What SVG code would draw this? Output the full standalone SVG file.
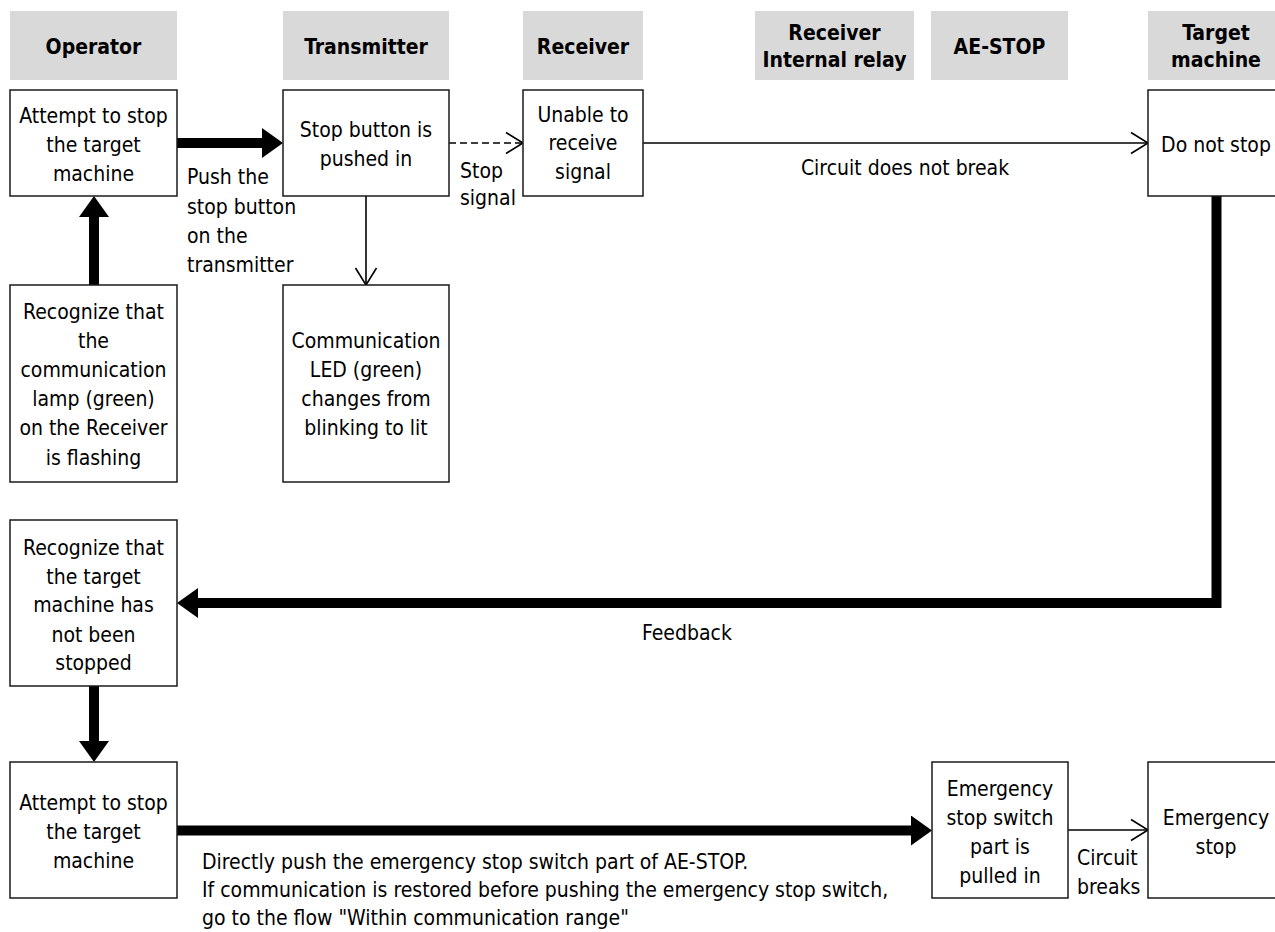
<svg xmlns="http://www.w3.org/2000/svg" width="1275" height="932" viewBox="0 0 1275 932">
<style>
  text { font-family: "DejaVu Sans Condensed", "DejaVu Sans", sans-serif; font-size: 21px; fill: #000; }
  .c { text-anchor: middle; }
  .h { font-weight: bold; text-anchor: middle; }
  .hdr { fill: #d9d9d9; stroke: none; }
  .box { fill: #fff; stroke: #1a1a1a; stroke-width: 1.5; }
  .thick { fill: none; stroke: #000; stroke-width: 10; stroke-linejoin: miter; }
  .thin { fill: none; stroke: #000; stroke-width: 1.6; }
  .dash { stroke-dasharray: 7 4; }
</style>
<defs>
  <marker id="big" viewBox="0 0 21 30" refX="0" refY="15" markerWidth="21" markerHeight="30" markerUnits="userSpaceOnUse" orient="auto">
    <path d="M0,0 L21,15 L0,30 Z" fill="#000"/>
  </marker>
  <marker id="open" viewBox="0 0 20 24" refX="18" refY="12" markerWidth="20" markerHeight="24" markerUnits="userSpaceOnUse" orient="auto">
    <path d="M1,1.5 L18,12 L1,22.5" fill="none" stroke="#000" stroke-width="1.6" stroke-dasharray="none"/>
  </marker>
</defs>

<g id="headers">
  <g id="hdr-operator"><rect class="hdr" x="10" y="11" width="167" height="69"/><text class="h" x="93.5" y="54">Operator</text></g>
  <g id="hdr-transmitter"><rect class="hdr" x="283" y="11" width="166" height="69"/><text class="h" x="366" y="54">Transmitter</text></g>
  <g id="hdr-receiver"><rect class="hdr" x="523" y="11" width="120" height="69"/><text class="h" x="583" y="54">Receiver</text></g>
  <g id="hdr-relay"><rect class="hdr" x="755" y="11" width="159" height="69"/><text class="h" x="834.5" y="40">Receiver</text><text class="h" x="834.5" y="67">Internal relay</text></g>
  <g id="hdr-aestop"><rect class="hdr" x="931" y="11" width="137" height="69"/><text class="h" x="999.5" y="54">AE-STOP</text></g>
  <g id="hdr-target"><rect class="hdr" x="1148" y="11" width="137" height="69"/><text class="h" x="1216" y="40">Target</text><text class="h" x="1216" y="67">machine</text></g>
</g>

<g id="connectors">
  <path class="thick" d="M177,143 H262" marker-end="url(#big)"/>
  <path class="thick" d="M94,285 V217" marker-end="url(#big)"/>
  <path class="thick" d="M1216.5,196 V603 H198" marker-end="url(#big)"/>
  <path class="thick" d="M94,686 V741" marker-end="url(#big)"/>
  <path class="thick" d="M177,830.5 H911" marker-end="url(#big)"/>
  <path class="thin" d="M366,196 V285" marker-end="url(#open)"/>
  <path class="thin dash" d="M449,143 H523" marker-end="url(#open)"/>
  <path class="thin" d="M643,143 H1148" marker-end="url(#open)"/>
  <path class="thin" d="M1068,830 H1148" marker-end="url(#open)"/>
  <g id="connector-labels">
    <text x="187" y="184">Push the</text>
    <text x="187" y="214">stop button</text>
    <text x="187" y="243">on the</text>
    <text x="187" y="272">transmitter</text>
    <text x="460" y="178">Stop</text>
    <text x="460" y="205">signal</text>
    <text class="c" x="905" y="175">Circuit does not break</text>
    <text x="642" y="640">Feedback</text>
    <text x="1077" y="865">Circuit</text>
    <text x="1077" y="894">breaks</text>
    <text x="202" y="869">Directly push the emergency stop switch part of AE-STOP.</text>
    <text x="202" y="897">If communication is restored before pushing the emergency stop switch,</text>
    <text x="202" y="925">go to the flow "Within communication range"</text>
  </g>
</g>

<g id="op-attempt1"><rect class="box" x="10" y="90" width="167" height="106"/>
  <text class="c" x="93.5" y="123">Attempt to stop</text><text class="c" x="93.5" y="152">the target</text><text class="c" x="93.5" y="181">machine</text></g>
<g id="tx-pushed"><rect class="box" x="283" y="90" width="166" height="106"/>
  <text class="c" x="366" y="137">Stop button is</text><text class="c" x="366" y="166">pushed in</text></g>
<g id="rx-unable"><rect class="box" x="523" y="90" width="120" height="106"/>
  <text class="c" x="583" y="122">Unable to</text><text class="c" x="583" y="150">receive</text><text class="c" x="583" y="179">signal</text></g>
<g id="tm-donotstop"><rect class="box" x="1148" y="90" width="137" height="106"/>
  <text class="c" x="1216" y="152">Do not stop</text></g>
<g id="op-recognize-lamp"><rect class="box" x="10" y="285" width="167" height="197"/>
  <text class="c" x="93.5" y="319">Recognize that</text><text class="c" x="93.5" y="348">the</text><text class="c" x="93.5" y="377">communication</text><text class="c" x="93.5" y="406">lamp (green)</text><text class="c" x="93.5" y="435">on the Receiver</text><text class="c" x="93.5" y="465">is flashing</text></g>
<g id="tx-led"><rect class="box" x="283" y="285" width="166" height="197"/>
  <text class="c" x="366" y="348">Communication</text><text class="c" x="366" y="377">LED (green)</text><text class="c" x="366" y="406">changes from</text><text class="c" x="366" y="435">blinking to lit</text></g>
<g id="op-recognize-notstopped"><rect class="box" x="10" y="520" width="167" height="166"/>
  <text class="c" x="93.5" y="555">Recognize that</text><text class="c" x="93.5" y="584">the target</text><text class="c" x="93.5" y="612">machine has</text><text class="c" x="93.5" y="642">not been</text><text class="c" x="93.5" y="670">stopped</text></g>
<g id="op-attempt2"><rect class="box" x="10" y="762" width="167" height="136"/>
  <text class="c" x="93.5" y="810">Attempt to stop</text><text class="c" x="93.5" y="839">the target</text><text class="c" x="93.5" y="868">machine</text></g>
<g id="ae-pulledin"><rect class="box" x="932" y="762" width="136" height="136"/>
  <text class="c" x="1000" y="796">Emergency</text><text class="c" x="1000" y="825">stop switch</text><text class="c" x="1000" y="854">part is</text><text class="c" x="1000" y="883">pulled in</text></g>
<g id="tm-estop"><rect class="box" x="1148" y="762" width="137" height="136"/>
  <text class="c" x="1216" y="825">Emergency</text><text class="c" x="1216" y="854">stop</text></g>
</svg>
